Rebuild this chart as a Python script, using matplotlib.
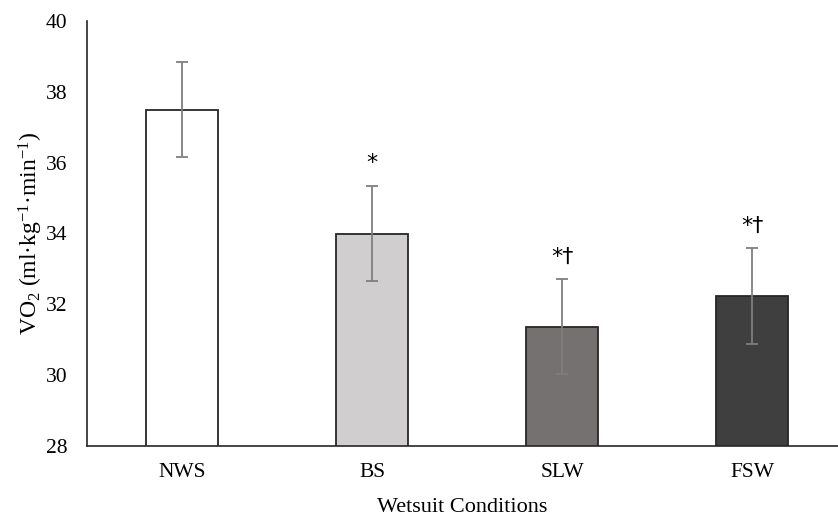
import matplotlib
matplotlib.use('Agg')
import matplotlib.pyplot as plt

conditions = ['NWS', 'BS', 'SLW', 'FSW']
vo2_mean = [37.5, 34.0, 31.37, 32.24]
vo2_err = [1.35, 1.35, 1.35, 1.35]
markers = ['', '*', '*†', '*†']
bar_colors = ['#ffffff', '#d0cece', '#767171', '#3f3f3f']

plt.rcParams['font.family'] = ['Liberation Serif', 'DejaVu Serif']
plt.rcParams['mathtext.fontset'] = 'custom'
plt.rcParams['mathtext.rm'] = 'Liberation Serif'
plt.rcParams['mathtext.it'] = 'Liberation Serif:italic'

fig = plt.figure(figsize=(8.38, 5.16), dpi=100)
ax = fig.add_axes([87/838, 70/516, 751/838, 425/516])

x = range(len(conditions))
ax.bar(x, vo2_mean, width=0.375, color=bar_colors, edgecolor='#262626',
       linewidth=1.3, zorder=2)
ax.errorbar(x, vo2_mean, yerr=vo2_err, fmt='none', ecolor='#7f7f7f',
            elinewidth=1.3, capsize=4.5, capthick=1.3, zorder=3)

# significance markers above error bars
for i, m in enumerate(markers):
    if m:
        ax.text(i, vo2_mean[i] + vo2_err[i] + 0.35, m, ha='center', va='bottom',
                fontsize=16, family=['DejaVu Sans'], color='black')

ax.set_ylim(28, 40)
ax.set_yticks(range(28, 41, 2))
ax.set_xlim(-0.5, -0.5 + 751/190)
ax.set_xticks(list(x))
ax.set_xticklabels(conditions)
ax.tick_params(axis='both', length=0, labelsize=15.5)
ax.tick_params(axis='y', pad=14)
ax.tick_params(axis='x', pad=12)

for s in ['top', 'right']:
    ax.spines[s].set_visible(False)
ax.spines['left'].set_color('#262626')
ax.spines['bottom'].set_color('#262626')
ax.spines['left'].set_linewidth(1.2)
ax.spines['bottom'].set_linewidth(1.2)

ax.set_ylabel(r'VO$_2$ (ml·kg$^{\mathrm{-1}}$·min$^{\mathrm{-1}}$)', fontsize=17, labelpad=1)
ax.set_xlabel('Wetsuit Conditions', fontsize=16, labelpad=12)

plt.savefig('out.png', dpi=100)
